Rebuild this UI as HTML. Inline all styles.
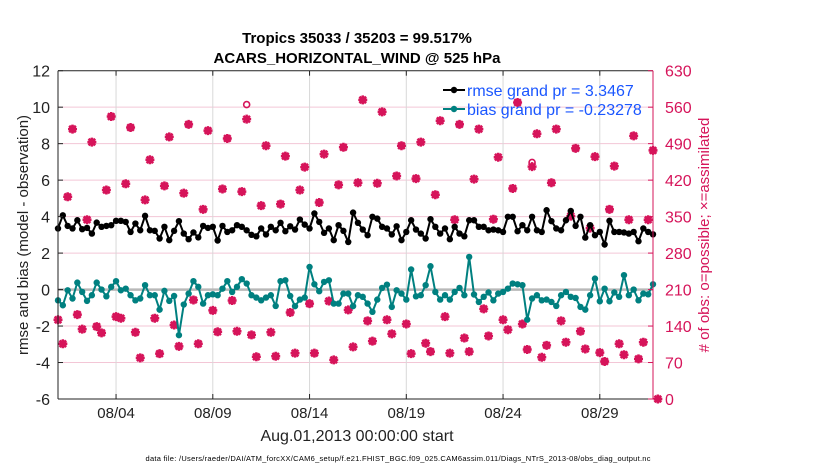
<!DOCTYPE html>
<html><head><meta charset="utf-8"><style>
body{margin:0;background:#fff;}
svg{display:block;font-family:"Liberation Sans",Arial,sans-serif;}
</style></head><body>
<svg id="chart" width="830" height="470" viewBox="0 0 830 470"></svg>
<script>
const tickDays = [3,8,13,18,23,28];
const tickLabels = ["08/04","08/09","08/14","08/19","08/24","08/29"];
const leftTicks = [12,10,8,6,4,2,0,-2,-4,-6];
const rightTicks = [0,70,140,210,280,350,420,490,560,630];
const rmse = [3.35,4.07,3.49,3.35,3.80,3.31,3.38,3.07,3.67,3.44,3.49,3.53,3.77,3.77,3.71,3.16,3.62,3.25,4.04,3.25,3.22,2.80,3.44,2.71,3.22,3.75,3.07,2.76,3.13,2.86,3.49,3.38,3.44,2.69,3.49,3.16,3.25,3.53,3.44,3.25,3.0,2.92,3.35,3.02,3.44,3.25,3.66,3.20,3.47,3.29,3.84,3.56,3.35,4.17,3.71,3.11,3.35,2.71,3.53,3.22,2.61,4.22,3.66,3.29,2.98,3.99,3.89,3.44,3.35,3.02,3.47,2.71,3.16,3.80,3.29,3.07,2.80,3.86,3.44,3.07,3.35,2.76,3.44,3.07,2.92,3.80,3.80,3.44,3.44,3.25,3.29,3.25,3.16,3.99,3.99,3.20,3.53,3.25,3.99,3.25,3.16,4.35,3.75,3.35,3.25,3.80,4.31,3.49,3.99,2.85,3.53,2.98,3.16,2.47,3.77,3.16,3.16,3.13,3.07,3.16,2.65,3.35,3.16,3.03];
const bias = [-0.59,-0.86,-0.04,-0.49,0.38,-0.13,-0.62,-0.31,0.38,0,-0.37,0.15,0.46,-0.04,0.05,-0.31,-0.59,-0.49,0.24,-0.31,-0.31,-1.10,-0.07,-0.62,-0.35,-2.50,-0.82,-0.22,0.46,0.15,-0.77,-0.31,-0.26,-0.31,0.05,0.46,-0.13,0.15,0.57,0.33,-0.31,-0.44,-0.59,-0.44,-0.31,-0.90,0.46,0.51,-0.35,-0.91,-0.55,-0.44,1.24,0.29,-0.09,0.42,0.51,-0.77,-0.77,-0.22,-0.22,-0.91,-0.31,-0.40,-0.77,-1.22,-0.55,0.09,0.27,-0.95,-0.04,-0.22,-0.55,1.10,-0.37,-0.31,0.24,1.28,-0.13,-0.55,-0.31,-0.55,-0.13,0.09,-0.31,1.79,-0.27,-0.68,-0.40,-0.16,-0.59,-0.22,-0.13,0.05,0.33,0.29,0.24,-1.65,-0.49,-0.31,-0.59,-0.55,-0.68,-0.90,-0.31,-0.13,-0.40,-0.46,-0.95,-1.10,-0.31,0.60,-0.64,0.05,-0.64,-0.16,-0.40,0.79,-0.31,0,-0.59,-0.22,-0.26,0.29];
const obsUsed = [152,106,388,518,162,134,344,493,139,127,401,542,158,155,413,521,128,79,382,459,155,87,409,503,142,101,395,527,190,106,364,515,170,129,403,500,189,130,398,537,123,81,371,486,128,82,374,466,166,88,401,445,183,88,377,470,188,75,411,483,171,100,415,574,150,111,414,551,152,125,428,486,144,87,423,493,107,91,392,534,158,88,344,527,117,91,422,518,173,121,345,464,152,133,404,569,144,95,446,509,80,103,415,518,150,109,351,481,130,96,328,465,89,72,364,447,106,85,344,505,77,109,344,477,0];
const obsPoss = [152,106,388,518,162,134,344,493,139,127,401,542,158,155,413,521,128,79,382,459,155,87,409,503,142,101,395,527,190,106,364,515,170,129,403,500,189,130,398,565,123,81,371,486,128,82,374,466,166,88,401,445,183,88,377,470,188,75,411,483,171,100,415,574,150,111,414,551,152,125,428,486,144,87,423,493,107,91,392,534,158,88,344,527,117,91,422,518,173,121,345,464,152,133,404,569,144,95,454,509,80,103,415,518,150,109,351,481,130,96,328,465,89,72,364,447,106,85,344,505,77,109,344,477,0];

const X0=58, PXD=19.35, YT=70.7, YB=399;
const xs = d => X0 + d*PXD;
const yL = v => YB - (v+6)/18*(YB-YT);
const yR = v => YB - v/630*(YB-YT);
const svg = document.getElementById('chart');
const NS='http://www.w3.org/2000/svg';
function mk(tag, attrs, parent){const e=document.createElementNS(NS,tag);for(const k in attrs)e.setAttribute(k,attrs[k]);(parent||svg).appendChild(e);return e;}
function txt(s,attrs){const e=mk('text',attrs);e.textContent=s;return e;}

leftTicks.forEach(v=>{ if(v!==12&&v!==-6){const g=mk('line',{x1:X0,x2:653,y1:yL(v),y2:yL(v),stroke:'#f3c6d6','stroke-width':1});

}});
tickDays.forEach(d=>{const g=mk('line',{x1:xs(d),x2:xs(d),y1:YT,y2:YB,stroke:'#d8d8d8','stroke-width':1});

});
const z=mk('line',{x1:X0,x2:653,y1:yL(0),y2:yL(0),stroke:'#b8b8b8','stroke-width':2.5});



const obsG=mk('g',{});


obsPoss.forEach((v,i)=>{const c=mk('circle',{cx:xs(i/4),cy:yR(v),r:3,fill:'none',stroke:'#d6145a','stroke-width':1.6},obsG);

});
obsUsed.forEach((v,i)=>{const x=xs(i/4),y=yR(v);const p=mk('path',{d:`M${x-4.5} ${y}H${x+4.5}M${x} ${y-4.5}V${y+4.5}M${x-3.3} ${y-3.3}L${x+3.3} ${y+3.3}M${x-3.3} ${y+3.3}L${x+3.3} ${y-3.3}`,stroke:'#d6145a','stroke-width':2.5},obsG);

});

function series(arr,color,name){const g=mk('g',{});


mk('polyline',{points:arr.map((v,i)=>xs(i/4)+','+yL(v)).join(' '),fill:'none',stroke:color,'stroke-width':2},g);
arr.forEach((v,i)=>{const c=mk('circle',{cx:xs(i/4),cy:yL(v),r:3.2,fill:color},g);

});}
series(rmse,'#000','rmse-series');
series(bias,'#008080','bias-series');

mk('line',{x1:X0,x2:X0,y1:YT,y2:YB,stroke:'#222','stroke-width':1});
mk('line',{x1:X0,x2:653,y1:YB,y2:YB,stroke:'#222','stroke-width':1});
mk('line',{x1:X0,x2:653,y1:YT,y2:YT,stroke:'#222','stroke-width':1});
mk('line',{x1:653,x2:653,y1:YT,y2:YB,stroke:'#d6145a','stroke-width':1});
leftTicks.forEach(v=>{mk('line',{x1:X0,x2:X0+5,y1:yL(v),y2:yL(v),stroke:'#222'});
const t=txt(String(v),{x:X0-8,y:yL(v)+6,'text-anchor':'end','font-size':16,fill:'#222'});

});
rightTicks.forEach(v=>{mk('line',{x1:648,x2:653,y1:yR(v),y2:yR(v),stroke:'#d6145a'});
const t=txt(String(v),{x:665,y:yR(v)+6,'font-size':16,fill:'#d6145a'});

});
tickDays.forEach((d,i)=>{mk('line',{x1:xs(d),x2:xs(d),y1:YB,y2:YB-5,stroke:'#222'});mk('line',{x1:xs(d),x2:xs(d),y1:YT,y2:YT+5,stroke:'#222'});
const t=txt(tickLabels[i],{x:xs(d),y:418,'text-anchor':'middle','font-size':15,fill:'#222'});

});
</script>
<script>
(function(){const svg=document.getElementById('chart');const NS='http://www.w3.org/2000/svg';
function t(s,a,name){const e=document.createElementNS(NS,'text');for(const k in a)e.setAttribute(k,a[k]);e.textContent=s;svg.appendChild(e);

return e;}
t('Tropics 35033 / 35203 = 99.517%',{x:357,y:43,'text-anchor':'middle','font-size':15,'font-weight':'bold',fill:'#000'},'chart-title');
t('ACARS_HORIZONTAL_WIND @ 525 hPa',{x:357,y:63,'text-anchor':'middle','font-size':15,'font-weight':'bold',fill:'#000'},'chart-subtitle');
t('rmse and bias (model - observation)',{x:0,y:0,transform:'translate(28,235) rotate(-90)','text-anchor':'middle','font-size':15,fill:'#222'},'y-left-axis-title');
t('# of obs: o=possible; \u00d7=assimilated',{x:0,y:0,transform:'translate(709,235) rotate(-90)','text-anchor':'middle','font-size':15,fill:'#d6145a'},'y-right-axis-title');
t('Aug.01,2013 00:00:00 start',{x:357,y:441,'text-anchor':'middle','font-size':16,fill:'#222'},'x-axis-title');
t('data file: /Users/raeder/DAI/ATM_forcXX/CAM6_setup/f.e21.FHIST_BGC.f09_025.CAM6assim.011/Diags_NTrS_2013-08/obs_diag_output.nc',{x:398,y:461,'text-anchor':'middle','font-size':7.5,fill:'#000',textLength:505},'data-file-footer');
const lg=document.createElementNS(NS,'g');svg.appendChild(lg);


lg.innerHTML='<line x1="443" x2="465" y1="90" y2="90" stroke="#000" stroke-width="2"/><circle cx="454" cy="90" r="3.2" fill="#000"/>'+
'<line x1="443" x2="465" y1="109" y2="109" stroke="#008080" stroke-width="2"/><circle cx="454" cy="109" r="3.2" fill="#008080"/>'+
'<text x="467" y="96" font-size="16" fill="#1a56ff">rmse grand pr = 3.3467</text>'+
'<text x="467" y="115" font-size="16" fill="#1a56ff">bias grand pr = -0.23278</text>';
})();
</script>
</body></html>
